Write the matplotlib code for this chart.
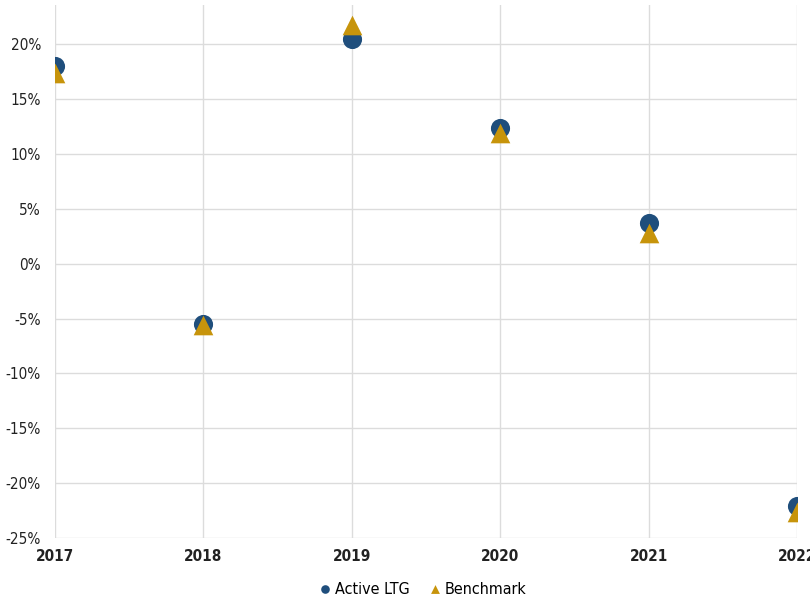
import matplotlib
matplotlib.use("Agg")
import matplotlib.pyplot as plt
from matplotlib.ticker import FuncFormatter

# values (annual returns, %)
years = [2017, 2018, 2019, 2020, 2021, 2022]
active_ltg = [18.0, -5.5, 20.5, 12.4, 3.7, -22.1]
benchmark = [17.4, -5.6, 21.8, 11.9, 2.8, -22.6]
y_ticks = [20, 15, 10, 5, 0, -5, -10, -15, -20, -25]

navy = "#1f4e7c"
gold = "#c7940b"

# condensed face to mimic the narrow font of the original
plt.rcParams["font.family"] = ["DejaVu Sans"]
plt.rcParams["font.stretch"] = "condensed"

fig = plt.figure(figsize=(8.1, 5.98), dpi=100)
ax = fig.add_axes([55 / 810, 60 / 598, 742 / 810, 533 / 598])

ax.scatter(years, active_ltg, s=190, marker="o", color=navy, zorder=3, label="Active LTG", linewidths=0)
ax.scatter(years, benchmark, s=200, marker="^", color=gold, zorder=4, label="Benchmark", linewidths=0)

ax.set_xlim(2017, 2022)
ax.set_ylim(-25, 23.6)
ax.set_xticks(years)
ax.set_yticks(y_ticks)
ax.yaxis.set_major_formatter(FuncFormatter(lambda v, p: f"{v:.0f}%"))

ax.grid(True, color="#dcdcdc", lw=1)
ax.set_axisbelow(True)
for s in ax.spines.values():
    s.set_visible(False)
ax.tick_params(length=0, labelsize=11, colors="#222222")
ax.tick_params(axis="y", pad=10)
ax.tick_params(axis="x", pad=8)
for lbl in ax.get_xticklabels():
    lbl.set_fontweight("bold")

ax.legend(loc="upper center", bbox_to_anchor=(0.493, -0.055), ncol=2, frameon=False,
          fontsize=11.5, handletextpad=0.0, handlelength=1.2, columnspacing=1.0, markerscale=0.45)

fig.savefig("out.png", dpi=100)
